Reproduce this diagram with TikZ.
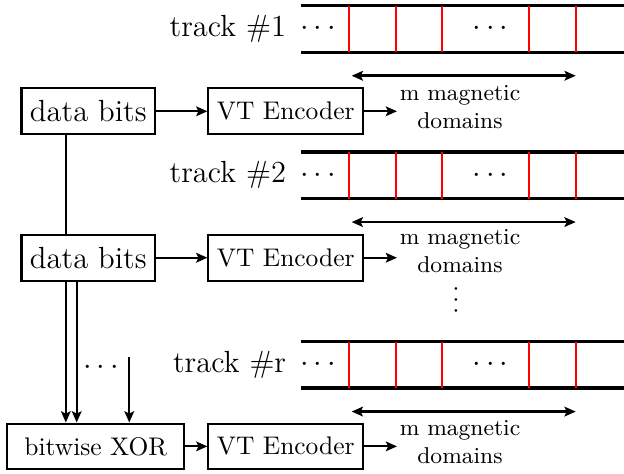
\documentclass[tikz,border=0pt]{standalone}
\usetikzlibrary{arrows.meta}
\begin{document}
\begin{tikzpicture}[>={Stealth[length=4.4pt,width=3.8pt,inset=0.9pt]},
    box/.style={draw, thick, minimum height=0.63cm},
    link/.style={->, thick},
    rail/.style={line width=1.3pt},
    wall/.style={red, thick},
    span/.style={<->, line width=1.1pt}]
    \useasboundingbox (0,0) rectangle (8.607,6.538);
    % tracks
    \foreach \y/\t in {6.138/1, 4.120/2, 1.506/r} {
        \draw[rail] (4.148,\y+0.321) -- (8.607,\y+0.321);
        \draw[rail] (4.148,\y-0.321) -- (8.607,\y-0.321);
        \foreach \x in {4.814,5.458,6.101,7.301,7.945}
            \draw[wall] (\x,\y-0.321) -- (\x,\y+0.321);
        \node[anchor=east] (T\t) at (4.071,\y) {\large track \#\t};
        \node (L\t) at (4.386,\y) {\large$\cdots$};
        \node (C\t) at (6.766,\y) {\large$\cdots$};
        \coordinate (SA\t) at (4.851,\y-0.645);
        \coordinate (SB\t) at (7.941,\y-0.645);
        \draw[span] (SA\t) -- (SB\t);
    }
    \node[rotate=90] (VD) at (6.299,2.40) {$\cdots$};
    % encoders
    \node[box] (D1) at (1.218,5.003) {\large data bits};
    \node[box] (V1) at (3.942,5.003) {VT Encoder};
    \draw[link] (D1) -- (V1);
    \coordinate (O1) at (5.476,5.003);
    \draw[link] (V1) -- (O1);
    \node[align=center, font=\small] (M1) at (6.345,5.067) {m magnetic\\domains};
    \node[box] (D2) at (1.218,2.983) {\large data bits};
    \node[box] (V2) at (3.942,2.983) {VT Encoder};
    \draw[link] (D2) -- (V2);
    \coordinate (O2) at (5.476,2.983);
    \draw[link] (V2) -- (O2);
    \node[align=center, font=\small] (M2) at (6.345,3.069) {m magnetic\\domains};
    \node[box, minimum width=2.44cm] (X) at (1.321,0.381) {bitwise XOR};
    \node[box] (V3) at (3.942,0.381) {VT Encoder};
    \draw[link] (X) -- (V3);
    \coordinate (O3) at (5.476,0.381);
    \draw[link] (V3) -- (O3);
    \node[align=center, font=\small] (M3) at (6.345,0.446) {m magnetic\\domains};
    % parity inputs
    \draw[thick] ([xshift=-0.31cm]D1.south) -- ([xshift=-0.31cm]D2.north);
    \draw[link] ([xshift=-0.31cm]D2.south) -- ([xshift=-0.31cm]D2.south |- X.north);
    \draw[link] ([xshift=-0.16cm]D2.south) -- ([xshift=-0.16cm]D2.south |- X.north);
    \node (XD) at (1.393,1.462) {\large$\cdots$};
    \coordinate (U) at (1.783,1.618);
    \draw[link] (U) -- (U |- X.north);
\end{tikzpicture}
\end{document}
